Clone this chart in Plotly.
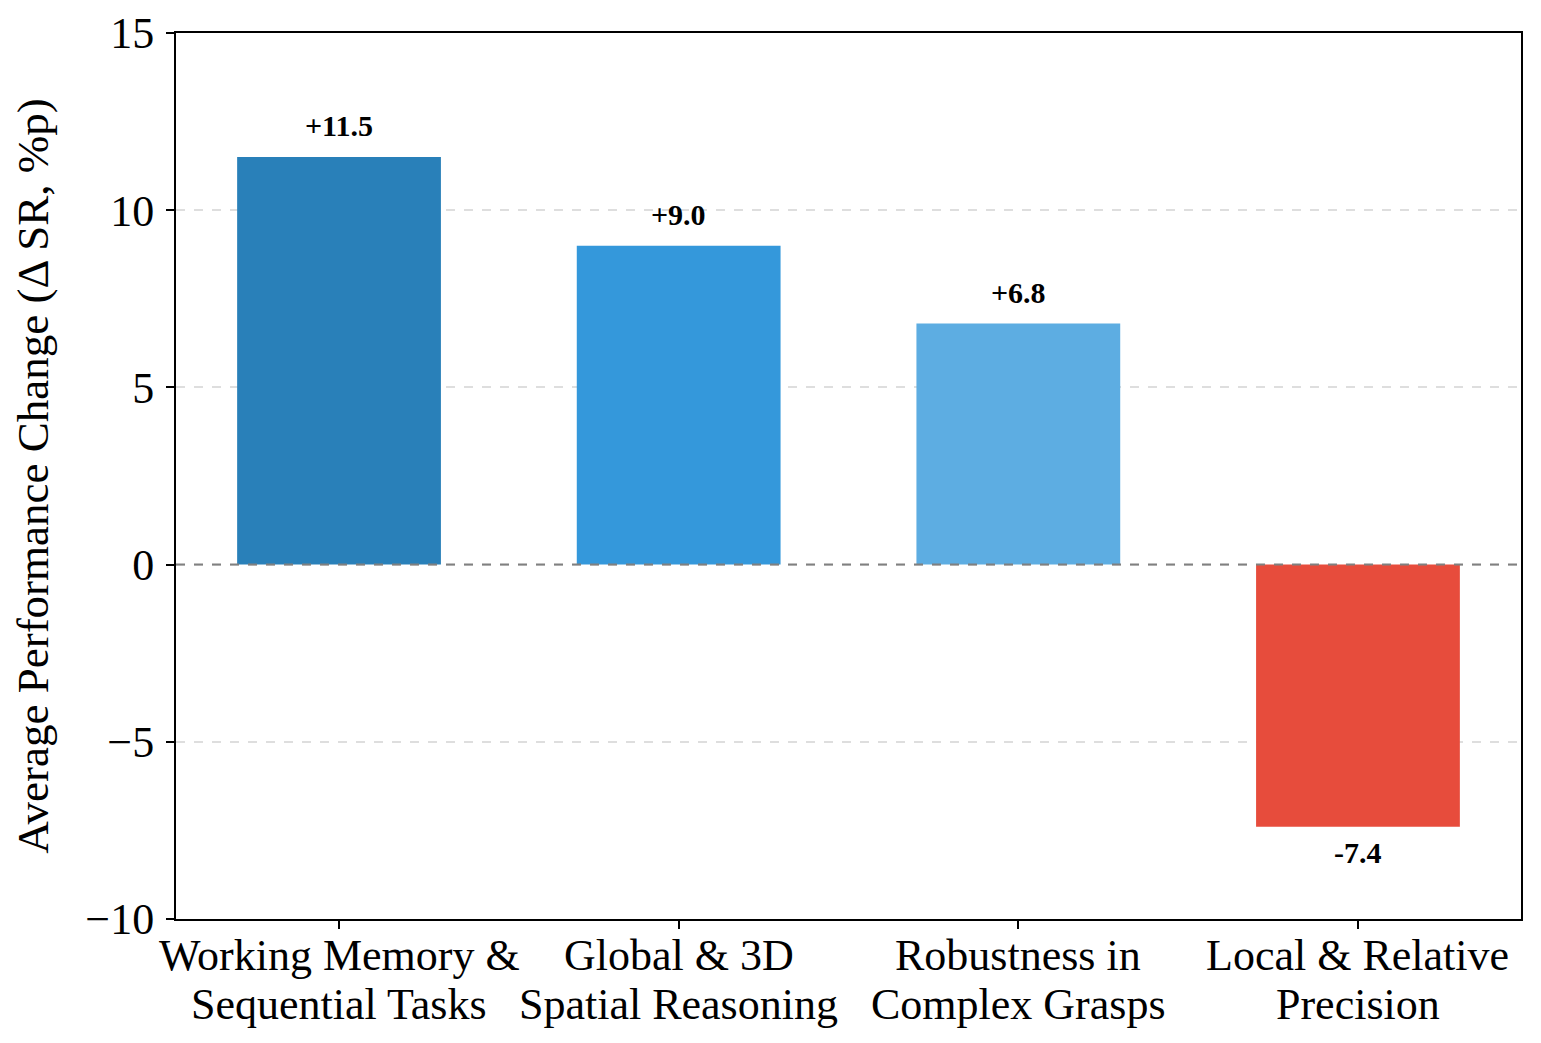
import plotly.graph_objects as go

categories = [["Working Memory &", "Sequential Tasks"], ["Global & 3D", "Spatial Reasoning"],
              ["Robustness in", "Complex Grasps"], ["Local & Relative", "Precision"]]
values = [11.5, 9.0, 6.8, -7.4]
colors = ["#2980b9", "#3498db", "#5dade2", "#e74c3c"]
labels = ["+11.5", "+9.0", "+6.8", "-7.4"]
y_ticks = [-10, -5, 0, 5, 10, 15]
y_tick_text = ["\u221210", "\u22125", "0", "5", "10", "15"]

FONT = "Liberation Serif, Times New Roman, serif"

x = list(range(len(categories)))
fig = go.Figure()
fig.add_trace(go.Bar(x=x, y=values, marker=dict(color=colors, line=dict(width=0)),
                     width=0.6, showlegend=False, hoverinfo="skip"))

for xi, v, t in zip(x, values, labels):
    pos = v >= 0
    fig.add_annotation(x=xi, y=v + 0.5 if pos else v - 0.5, text="<b>%s</b>" % t,
                       showarrow=False, yanchor="bottom" if pos else "top",
                       yshift=-4 if pos else 10,
                       font=dict(family=FONT, size=30, color="black"), borderpad=0)

# category labels (two lines each, tight matplotlib-like line spacing)
for xi, lines in zip(x, categories):
    for k, line in enumerate(lines):
        fig.add_annotation(x=xi, xref="x", y=0, yref="paper", text=line,
                           showarrow=False, yanchor="middle", yshift=-36 - 49 * k,
                           font=dict(family=FONT, size=44, color="black"), borderpad=0)

fig.add_shape(type="line", xref="paper", x0=0, x1=1, yref="y", y0=0, y1=0,
              line=dict(color="#808080", width=2, dash="dash"), layer="above")

fig.update_layout(
    width=1525, height=1027,
    margin=dict(l=168, r=12, t=25, b=116),
    paper_bgcolor="white", plot_bgcolor="white",
    font=dict(family=FONT, size=44, color="black"),
)
fig.update_xaxes(range=[-0.48, 3.48], tickvals=x, showticklabels=False, automargin=False,
                 showline=True, linecolor="black", linewidth=2, mirror=True,
                 ticks="outside", ticklen=8, tickwidth=1.5, tickcolor="black",
                 showgrid=False, zeroline=False)
fig.update_yaxes(range=[-10, 15], tickvals=y_ticks, ticktext=y_tick_text, automargin=False,
                 showline=True, linecolor="black", linewidth=2, mirror=True,
                 ticks="outside", ticklen=8, tickwidth=1.5, tickcolor="black",
                 ticklabelstandoff=3,
                 showgrid=True, gridcolor="#dedede", gridwidth=1.5, griddash="dash",
                 zeroline=False, tickfont=dict(size=44),
                 title=dict(text="Average Performance Change (\u0394 SR, %p)",
                            font=dict(size=45), standoff=24))

fig.write_html("out.html")
